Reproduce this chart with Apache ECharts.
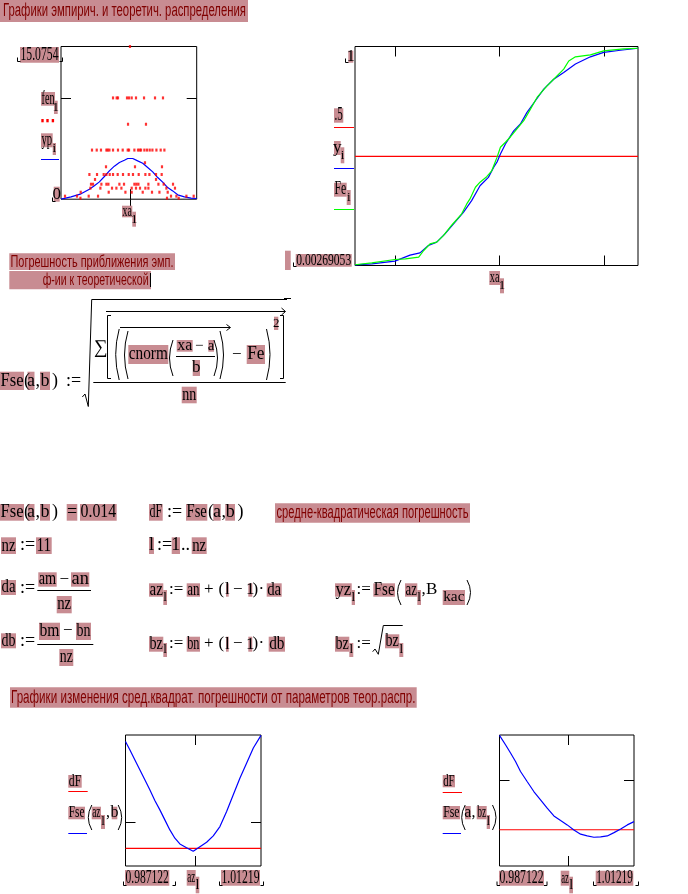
<!DOCTYPE html>
<html><head><meta charset="utf-8">
<script src="https://cdn.jsdelivr.net/npm/echarts@6.0.0/dist/echarts.min.js"></script>
<style>html,body{margin:0;padding:0;background:#fff}#c{width:688px;height:894px}</style>
</head><body><div id="c"></div>
<script>
// ---------------- data ----------------
const xaRange = [0.862, 1.1325];
const fenRange = [0, 15.0754];
const fenLevels = [15.0754, 10.0, 7.4, 4.85, 3.6, 3.2, 2.44, 1.95, 1.48, 1.09, 0.69, 0.3, 0.1];
const fenXa = [
  [0.9995],
  [0.9657, 0.9730, 0.9756, 0.9936, 0.9976, 1.0029, 1.0115, 1.0275, 1.0494, 1.0653],
  [0.9956, 1.0314],
  [0.9238, 0.9332, 0.9417, 0.9525, 0.9551, 0.9585, 0.9657, 0.9756, 0.9850, 0.9950, 0.9976, 1.0083, 1.0155, 1.0189, 1.0215, 1.0282, 1.0334, 1.0388, 1.0442, 1.0522, 1.0607, 1.0681],
  [1.0294],
  [0.9517, 1.0095, 1.0633],
  [0.9186, 0.9338, 0.9471, 0.9525, 0.9591, 0.9657, 0.9750, 0.9856, 0.9970, 1.0055, 1.0169, 1.0302, 1.0382, 1.0514, 1.0627],
  [0.9298, 1.0514],
  [0.9218, 0.9258, 0.9425, 0.9525, 0.9565, 0.9784, 0.9876, 1.0083, 1.0123, 1.0163, 1.0362, 1.0562, 1.0667, 1.0853],
  [0.9206, 0.9405, 0.9637, 0.9724, 0.9824, 1.0029, 1.0115, 1.0195, 1.0302, 1.0362, 1.0721, 1.0892],
  [0.9013, 0.9571, 0.9904, 1.0029, 1.0249, 1.0434, 1.0582, 1.0747],
  [0.870, 0.8939, 0.9172, 0.9358, 1.0813, 1.092, 1.112, 1.1265],
  [0.9007, 1.0733, 1.0966]
];
const ypXa  = [0.862,0.882,0.902,0.9186,0.9285,0.9385,0.9485,0.9584,0.9684,0.9784,0.9883,0.995,1.005,1.0149,1.0249,1.0348,1.0448,1.0548,1.0647,1.0747,1.0847,1.0946,1.108,1.1212,1.1325];
const ypVal = [0,0.23,0.53,0.99,1.32,1.71,2.24,2.80,3.26,3.62,3.85,4.02,4.02,3.78,3.55,3.13,2.70,2.14,1.68,1.15,0.82,0.43,0.23,0.10,0.07];

const cdfRange = [0.00269053, 1];
const halfLevel = 0.5;
const yiXa  = [0.862,0.878,0.9002,0.9146,0.9241,0.9322,0.9401,0.9480,0.9576,0.9656,0.9735,0.9815,0.9895,0.9946,0.9981,1.0010,1.0058,1.0137,1.0201,1.0264,1.0344,1.0424,1.0519,1.0615,1.0727,1.0870,1.0997,1.1157,1.1325];
const yiVal = [0.0059,0.0104,0.0227,0.050,0.060,0.094,0.109,0.147,0.200,0.245,0.298,0.366,0.404,0.450,0.477,0.510,0.556,0.616,0.647,0.700,0.753,0.806,0.851,0.882,0.920,0.953,0.973,0.983,0.992];
const feXa  = [0.862,0.878,0.9002,0.9102,0.9229,0.9277,0.9337,0.9401,0.9465,0.9544,0.9640,0.9688,0.9719,0.9771,0.9815,0.9879,0.9927,0.9946,0.9977,1.0010,1.0058,1.0105,1.0168,1.0233,1.0297,1.0360,1.0455,1.0536,1.0615,1.0663,1.0727,1.0870,1.0997,1.1188,1.1325];
const feVal = [0.006,0.015,0.030,0.033,0.041,0.071,0.101,0.109,0.139,0.186,0.238,0.283,0.306,0.359,0.382,0.407,0.434,0.457,0.495,0.541,0.564,0.588,0.625,0.662,0.715,0.768,0.821,0.859,0.897,0.934,0.953,0.962,0.980,0.989,0.992];

const azRange = [0.987122, 1.01219];
const dF = 0.014;
const fseRangeA = [0.01, 0.0398];
const fseRangeB = [0.0096, 0.0255];
const azA   = [0.98712,0.98792,0.98884,0.98977,0.99070,0.99162,0.99255,0.99348,0.99440,0.99533,0.99626,0.99718,0.99842,0.99965,1.00089,1.00213,1.00336,1.00459,1.00583,1.00706,1.00830,1.00954,1.01077,1.01219];
const fseAz = [0.03834,0.03645,0.03417,0.03189,0.02961,0.02733,0.02489,0.02277,0.02049,0.01821,0.01632,0.01502,0.01417,0.01335,0.0144,0.0154,0.01684,0.01896,0.02238,0.02619,0.0300,0.03342,0.03684,0.03971];
const azB   = [0.98712,0.98824,0.98918,0.99011,0.99104,0.99227,0.99352,0.99477,0.99601,0.99726,0.99851,0.99974,1.00099,1.00224,1.00347,1.00472,1.00597,1.00721,1.00846,1.00971,1.01094,1.01219];
const fseBz = [0.02545,0.02432,0.02331,0.02229,0.02107,0.01986,0.01864,0.01763,0.01662,0.01568,0.01511,0.01459,0.01398,0.01346,0.01325,0.01309,0.01313,0.01325,0.01365,0.0141,0.01459,0.01499];

const ticks1X = [1.0], ticks1Y = [10];
const ticks2X = [0.9, 1.0, 1.1], ticks2Y = [0.5];
const ticks3X = [1.0], ticks3Y = [0.02];
const ticks4X = [1.0], ticks4Y = [0.02];

const titleTop = 'Графики эмпирич. и теоретич. распределения';
const titleErr1 = 'Погрешность приближения эмп.';
const titleErr2 = 'ф-ии к теоретической';
const titleMse = 'средне-квадратическая погрешность';
const titleBottom = 'Графики изменения сред.квадрат. погрешности от параметров теор.распр.';

// ---------------- helpers ----------------
const PINK = '#c88c92', DR = '#800000';
const SERIF = '"Liberation Serif","Times New Roman",serif';
const SANS = '"Liberation Sans","Arial",sans-serif';
const G = [];
const cv = document.createElement('canvas').getContext('2d');
function W(s, font){ cv.font = font; return cv.measureText(s).width; }
function box(x0,y0,x1,y1){ G.push({type:'rect', silent:true, z:5, shape:{x:x0,y:y0,width:x1-x0,height:y1-y0}, style:{fill:PINK}}); }
function T(s, x0, x1, yc, size, o){
  o = o || {};
  const font = size + 'px ' + (o.fam || SERIF);
  const w = W(s, font);
  let sx = 1, x = x0;
  if (x1 != null) { if (o.center) x = (x0 + x1) / 2 - w / 2; else sx = (x1 - x0) / w; }
  G.push({type:'text', silent:true, z:10, x:x, y:yc, scaleX:sx,
    style:{text:s, font:font, fill:o.col || '#000', textAlign:'left', textVerticalAlign:'middle', align:'left', verticalAlign:'middle'}});
}
function PB(s, x0, y0, x1, y1, size, o){
  o = o || {};
  box(x0, y0, x1, y1);
  const p = o.pad == null ? 0.5 : o.pad;
  T(s, x0 + p, x1 - p, (y0 + y1) / 2 + (o.dy || 0), size, o);
}
function L(points, col, w){ G.push({type:'polyline', silent:true, z:10, shape:{points:points}, style:{stroke:col || '#000', lineWidth:w || 1, fill:null}}); }
function brL(x,y){ L([[x,y-4],[x,y],[x+3,y]]); }
function brR(x,y){ L([[x-3,y],[x,y],[x,y-4]]); }
function paren(x, y0, y1, left){
  const m = (y0 + y1) / 2;
  const sh = left ? {x1:x+3.5,y1:y0,x2:x+3.5,y2:y1,cpx1:x-3.5,cpy1:m} : {x1:x-3.5,y1:y0,x2:x-3.5,y2:y1,cpx1:x+3.5,cpy1:m};
  G.push({type:'bezierCurve', silent:true, z:10, shape:sh, style:{stroke:'#000', lineWidth:1, fill:null}});
}
const zip = (a, b) => a.map((v, i) => [v, b[i]]);

// ---------------- text / formulas ----------------
box(0,0,248,22); T(titleTop, 3, 246, 11.5, 18, {fam:SANS, col:DR});

// chart 1 labels
PB(String(fenRange[1]), 20,47,59,62.7, 18); brL(17.5,61.5); brR(62.5,61.5);
PB('fen', 41,92,55,105.7, 18); PB('1', 54,100.7,57.7,114, 13, {center:true});
[41.3,46.3,51.7].forEach(x => G.push({type:'rect', silent:true, z:10, shape:{x:x,y:119,width:2.4,height:3.3}, style:{fill:'#ff0000'}}));
PB('yp', 41,133.3,52.7,147.3, 18); PB('i', 52.7,143,56,155, 13, {center:true});
L([[41,159.5],[59,159.5]], '#0000ff');
PB(String(fenRange[0]), 53.7,186.7,59.7,201.7, 17, {center:true}); brL(52.5,201.5);
PB('xa', 122,205.7,132.3,217.3, 17); PB('1', 132.3,211.7,136,226.7, 13, {center:true});

// chart 2 labels
PB(String(cdfRange[1]), 348.3,50.7,353.3,62.7, 16, {center:true}); brL(345.5,62.5);
PB('.5', 334,108.3,343.3,122.7, 18); L([[334,127.5],[354,127.5]], '#ff0000');
PB('y', 334,141,340.7,155, 17, {center:true}); PB('i', 340.7,147.3,344.3,163.3, 13, {center:true});
L([[334,168.5],[354,168.5]], '#0000ff');
PB('Fe', 334,182.7,346.7,196.7, 18); PB('i', 346.7,190,350.7,205, 13, {center:true});
L([[334,209.5],[354,209.5]], '#00ff00');
box(285,250.7,290.7,270);
PB(String(cdfRange[0]), 295.7,254,351.7,266.7, 17); brL(293.5,266.5);
PB('xa', 489.3,271,500,285, 17); PB('1', 500,278.3,504,293.3, 13, {center:true});
L([[284,298.5],[291,298.5]]);

// error section
box(9.3,253.3,175,270); T(titleErr1, 10.5, 173.5, 262, 17, {fam:SANS, col:DR});
box(9.3,271,151,289.3); T(titleErr2, 42.7, 148.5, 280.5, 17, {fam:SANS, col:DR});
L([[150.5,273],[150.5,287]]);

// Fse(a,b) := sqrt( sum[ ((cnorm((xa-a)/b)) - Fe)^2 ] / nn )
PB('Fse', 0,371.7,24,390, 19); T('(', 24, null, 381, 18);
PB('a', 27.5,371.7,34.5,390, 18, {center:true}); T(',', 35.5, null, 381, 18);
PB('b', 40,371.7,50,390, 18, {center:true}); T(')', 52, null, 381, 18);
T(':=', 66, null, 381, 18);
L([[82.3,397],[85,394],[88.3,406.5],[91.7,299.5],[287,299.5]]);
L([[93.3,382.5],[285.7,382.5]]);
PB('nn', 181.7,386.7,196.7,403.3, 18);
T('∑', 94, null, 348, 19);
L([[111,315.5],[107.5,315.5],[107.5,378.5],[111,378.5]]);
L([[280,315.5],[283.5,315.5],[283.5,378.5],[280,378.5]]);
L([[106,311.5],[285,311.5]]); L([[281.5,308],[285.5,311.5],[281.5,315]]);
L([[120,327.5],[230,327.5]]); L([[226.5,324.5],[230.5,327.5],[226.5,330.5]]);
paren(115.7,329,380,true); paren(124.5,331,379,true);
PB('cnorm', 128.3,345,168.3,364, 19);
paren(169.5,340,376,true);
PB('xa', 176.7,340,192.7,351.7, 16); T('−', 195, null, 346, 15);
PB('a', 208.3,340,214,351.7, 15, {center:true});
L([[176,356.5],[215,356.5]]);
PB('b', 192.7,360,200,376, 17, {center:true});
paren(217.5,340,376,false); paren(223.5,331,379,false);
T('−', 232, null, 354.5, 17);
PB('Fe', 246.7,345,265,364, 19);
paren(270,329,380,false);
PB('2', 274,316.7,278.3,330, 13, {center:true});

// row 1
PB('Fse', 0,504,24,520.7, 19); T('(', 24, null, 512.3, 18);
PB('a', 27.5,504,34.5,520.7, 18, {center:true}); T(',', 35.5, null, 512.3, 18);
PB('b', 40,504,50,520.7, 18, {center:true}); T(')', 52, null, 512.3, 18);
PB('=', 66.7,504,77.3,520.7, 18, {center:true});
PB(String(dF.toFixed(3)), 80,504,116.7,520.7, 19);
PB('dF', 149,504,162.7,520.7, 19); T(':=', 167, null, 512.3, 18);
PB('Fse', 186,504,207.3,520.7, 19); T('(', 208, null, 512.3, 18);
PB('a', 213.3,504,220.7,520.7, 18, {center:true}); T(',', 221.5, null, 512.3, 18);
PB('b', 225.3,504,235,520.7, 18, {center:true}); T(')', 237.5, null, 512.3, 18);
box(275,503.3,470,522.7); T(titleMse, 276.5, 468.5, 513.3, 18, {fam:SANS, col:DR});

// row 2
PB('nz', 1,537.3,16,554, 19); T(':=', 20, null, 545.7, 18);
PB('11', 36,537.3,51.7,554, 19);
PB('l', 149,537.3,154,554, 18, {center:true}); T(':=', 157, null, 545.7, 18);
PB('1', 171.7,537.3,180,554, 18, {center:true}); T('..', 181, null, 545.7, 18);
PB('nz', 191.7,537.3,206.7,554, 19);

// row 3
PB('da', 1,580,16,595, 19); T(':=', 20, null, 588, 18);
L([[37.3,590.5],[91,590.5]]);
PB('am', 38.3,572.3,56.7,586.7, 18); T('−', 59.5, null, 579.5, 17); PB('an', 71,572.3,89.3,586.7, 18);
PB('nz', 56.7,596,71.7,613.3, 18);
PB('az', 149,583.3,163.3,596.7, 18); PB('l', 163.3,590,167,605, 13, {center:true});
T(':=', 169, null, 590, 17); PB('an', 186.7,583.3,200,596.7, 18);
T('+', 204, null, 590, 17); T('(', 218.5, null, 590, 17);
PB('l', 226,583.3,228.7,596.7, 17, {center:true}); T('−', 233, null, 590, 17);
PB('1', 248.3,583.3,252.3,596.7, 17, {center:true}); T(')', 252.5, null, 590, 17);
T('·', 258.5, null, 590, 17); PB('da', 266.7,583.3,281.7,596.7, 18);
PB('yz', 335,583.3,351.7,596.7, 18); PB('l', 351.7,590,355,605, 13, {center:true});
T(':=', 356.5, null, 590, 17); PB('Fse', 373.3,583.3,395,596.7, 18);
paren(397.5,580,605,true);
PB('az', 405,583.3,417.3,596.7, 18); PB('l', 417.3,590,421,605, 13, {center:true});
T(',', 421.5, null, 590, 17); T('B', 426, null, 590, 17);
PB('kac', 442.7,590,465,605, 15);
paren(470.5,580,605,false);

// row 4
PB('db', 1,633.3,16,648.3, 19); T(':=', 20, null, 641, 18);
L([[37.3,644.5],[93.3,644.5]]);
PB('bm', 39,622.7,60,640, 18); T('−', 63, null, 631, 17); PB('bn', 76,622.7,91,640, 18);
PB('nz', 59.3,649,73.3,666, 18);
PB('bz', 149,636.7,163.3,651.7, 18); PB('l', 163.3,643,167,657, 13, {center:true});
T(':=', 169, null, 644, 17); PB('bn', 186.7,636.7,200,651.7, 18);
T('+', 204, null, 644, 17); T('(', 218.5, null, 644, 17);
PB('l', 226,636.7,228.7,651.7, 17, {center:true}); T('−', 233, null, 644, 17);
PB('1', 248.3,636.7,252.3,651.7, 17, {center:true}); T(')', 252.5, null, 644, 17);
T('·', 258.5, null, 644, 17); PB('db', 268.7,636.7,285,651.7, 18);
PB('bz', 335,636.7,349.3,651.7, 18); PB('l', 349.3,643,353.3,657, 13, {center:true});
T(':=', 356.5, null, 644, 17);
L([[372.7,651.7],[375,649],[378.3,654.3],[383.3,625.5],[402.7,625.5]]);
PB('bz', 385,634.3,399.3,648.3, 18); PB('l', 399.3,643,403.3,657, 13, {center:true});

// bottom title
box(10,687.3,416.7,707.7); T(titleBottom, 11, 415.5, 697.8, 18, {fam:SANS, col:DR});

// bottom-left legend
PB('dF', 68.3,775,81.7,787.7, 17); L([[68.3,791.5],[87.7,791.5]], '#ff0000');
PB('Fse', 68.3,806.7,85,819.3, 16); paren(88.3,805,830,true);
PB('az', 91.7,806.7,101,819.3, 16); PB('l', 101,815,105,829, 13, {center:true});
T(',', 106, null, 813, 16); PB('b', 111.7,806.7,117.3,819.3, 16, {center:true});
paren(121.7,805,830,false); L([[68.3,833.5],[87,833.5]], '#0000ff');
PB(String(azRange[0]), 125,870,169.3,885.7, 18); PB('az', 186.7,870,195.7,885.7, 17);
PB('l', 195.7,876.7,199.3,893.3, 14, {center:true}); PB(String(azRange[1]), 221,870,260,885.7, 18);
brL(123.5,885.5); brR(175.5,885.5); brL(219.5,885.5); brR(263.5,885.5);

// bottom-right legend
PB('dF', 442.7,775,455,787.3, 17); L([[442.7,792.5],[462,792.5]], '#ff0000');
PB('Fse', 442.7,806,460,819.3, 16); paren(461.7,805,830,true);
PB('a', 465,806,470.7,819.3, 16, {center:true}); T(',', 471.5, null, 813, 16);
PB('bz', 476.7,806,486.7,819.3, 16); PB('l', 486.7,815,490,829, 13, {center:true});
paren(496,805,830,false); L([[442.7,833.5],[461,833.5]], '#0000ff');
PB(String(azRange[0]), 499,870.7,544,885.7, 18); PB('az', 560.7,870.7,569.3,885.7, 17);
PB('l', 569.3,876.7,573,893.3, 14, {center:true}); PB(String(azRange[1]), 595.7,870.7,633.3,885.7, 18);
brL(497,885.5); brR(547,885.5); brL(593.5,885.5); brR(638.5,885.5);

// ---------------- charts ----------------
const grids = [
  {left:61, top:46.5, width:135.7, height:152.7},
  {left:355, top:46.5, width:283, height:219},
  {left:125.5, top:735, width:135.5, height:131},
  {left:499.5, top:735, width:134.5, height:131}
].map(g => Object.assign({show:true, borderColor:'#000', borderWidth:1, containLabel:false}, g));

const xAxis = [], yAxis = [];
function addAxes(gi, xr, yr, xt, yt){
  const base = {type:'value', gridIndex:gi, axisLine:{show:false}, axisLabel:{show:false}, splitLine:{show:false}};
  const tick = v => ({show:true, inside:true, length:10, customValues:v, lineStyle:{color:'#000', width:1}});
  xAxis.push(Object.assign({}, base, {min:xr[0], max:xr[1], position:'bottom', axisTick:tick(xt)}));
  xAxis.push(Object.assign({}, base, {min:xr[0], max:xr[1], position:'top', axisTick:tick(xt)}));
  yAxis.push(Object.assign({}, base, {min:yr[0], max:yr[1], position:'left', axisTick:tick(yt)}));
  yAxis.push(Object.assign({}, base, {min:yr[0], max:yr[1], position:'right', axisTick:tick(yt)}));
}
addAxes(0, xaRange, fenRange, ticks1X, ticks1Y);
addAxes(1, xaRange, cdfRange, ticks2X, ticks2Y);
addAxes(2, azRange, fseRangeA, ticks3X, ticks3Y);
addAxes(3, azRange, fseRangeB, ticks4X, ticks4Y);

function line(gi, data, color, z){
  return {type:'line', xAxisIndex:gi*2, yAxisIndex:gi*2, data:data, symbol:'none', showSymbol:false,
    lineStyle:{color:color, width:1.2}, itemStyle:{color:color}, silent:true, z:z || 2, animation:false};
}
const fenPts = [];
fenLevels.forEach((lv, i) => fenXa[i].forEach(x => fenPts.push([x, lv])));

const series = [
  {type:'scatter', xAxisIndex:0, yAxisIndex:0, data:fenPts, symbol:'rect', symbolSize:[2.2,3],
   itemStyle:{color:'#ff0000'}, silent:true, z:3, animation:false},
  line(0, zip(ypXa, ypVal), '#0000ff', 2),
  line(1, xaRange.map(x => [x, halfLevel]), '#ff0000', 2),
  line(1, zip(yiXa, yiVal), '#0000ff', 3),
  line(1, zip(feXa, feVal), '#00ff00', 4),
  line(2, azRange.map(x => [x, dF]), '#ff0000', 2),
  line(2, zip(azA, fseAz), '#0000ff', 3),
  line(3, azRange.map(x => [x, dF]), '#ff0000', 2),
  line(3, zip(azB, fseBz), '#0000ff', 3)
];

const chart = echarts.init(document.getElementById('c'), null, {renderer:'canvas', width:688, height:894});
chart.setOption({
  backgroundColor:'#ffffff',
  animation:false,
  grid:grids, xAxis:xAxis, yAxis:yAxis, series:series,
  graphic:{elements:G}
});
</script>
</body></html>
